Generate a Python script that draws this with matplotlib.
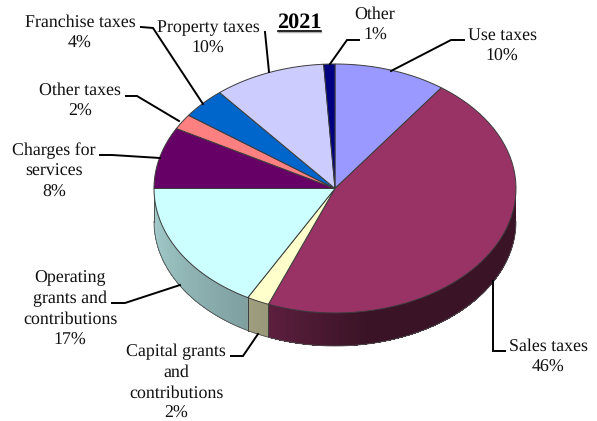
import numpy as np
import matplotlib
matplotlib.use('Agg')
import matplotlib.pyplot as plt
from matplotlib.patches import Polygon

plt.rcParams['font.family'] = ['Liberation Serif', 'DejaVu Serif']
plt.rcParams['text.hinting'] = 'none'

title = '2021'
names = ['Use taxes', 'Sales taxes', 'Capital grants\nand\ncontributions',
         'Operating\ngrants and\ncontributions', 'Charges for\nservices',
         'Other taxes', 'Franchise taxes', 'Property taxes', 'Other']
values = [10, 46, 2, 17, 8, 2, 4, 10, 1]
colors = ['#9999ff', '#993366', '#ffffcc', '#ccffff', '#660066',
          '#ff8080', '#0066cc', '#ccccff', '#000080']

# label centres and leader lines, in pixels
label_pos = [(502, 45), (548, 356.5), (176, 382), (70, 308.5), (54, 171),
             (80, 100.5), (80, 32.5), (208, 37), (375, 24.5)]
leaders = [[(464, 40), (451, 40), (391, 71)],
           [(505, 351), (493, 351), (493, 281)],
           [(231, 356), (243, 356), (258, 334)],
           [(112, 303), (125, 303), (180, 285)],
           [(100, 155), (112, 155), (160, 158)],
           [(126, 96), (137, 96), (179, 121)],
           [(141, 27), (153, 28), (203, 104)],
           [(265, 32), (269, 72)],
           [(359, 40), (347, 40), (330, 64)]]

cx, cy = 335, 188.5
rx, ry = 181, 124.5
depth = 33
line_step = 20.7


def rim(theta):
    # theta in degrees, clockwise from 12 o'clock
    t = np.radians(theta)
    return cx + rx * np.sin(t), cy - ry * np.cos(t)


def shade(theta):
    return np.interp(theta, [90, 170, 200, 210, 270], [0.38, 0.38, 0.59, 0.63, 0.82])


fig = plt.figure(figsize=(5.97, 4.21), dpi=100)
ax = fig.add_axes([0, 0, 1, 1])
ax.set_xlim(0, 597)
ax.set_ylim(421, 0)
ax.axis('off')

edges = np.cumsum([0] + values) * 3.6

# side wall, only the front half is visible
for i, c in enumerate(colors):
    a0, a1 = max(edges[i], 90), min(edges[i + 1], 270)
    if a0 >= a1:
        continue
    base = np.array(matplotlib.colors.to_rgb(c))
    # each band runs to the end of the slice and the next one paints over it
    for s in np.arange(a0, a1, 1.0):
        arc = np.linspace(s, a1, 40)
        x, y = rim(arc)
        pts = list(zip(x, y)) + list(zip(x[::-1], y[::-1] + depth))
        ax.add_patch(Polygon(pts, fc=base * shade(s + 0.5), ec='none', zorder=1))
    # darker seam at the slice boundary
    for a in (a0, a1):
        if 90 < a < 270:
            x, y = rim(a)
            ax.plot([x, x], [y, y + depth], color='#404040', lw=0.7, zorder=2)

# outline of the wall
front = np.linspace(90, 270, 181)
fx, fy = rim(front)
ax.plot(fx, fy + depth, color='#505050', lw=0.6, zorder=2)
ax.plot([fx[-1], fx[-1]], [fy[-1], fy[-1] + depth], color='#505050', lw=0.7, zorder=2)

# top face
for i, c in enumerate(colors):
    arc = np.linspace(edges[i], edges[i + 1], 60)
    x, y = rim(arc)
    pts = [(cx, cy)] + list(zip(x, y))
    ax.add_patch(Polygon(pts, fc=c, ec='#3c3c3c', lw=0.7, joinstyle='round', zorder=3))

for xy, pos, name, v in zip(leaders, label_pos, names, values):
    lx, ly = zip(*xy)
    ax.plot(lx, ly, color='black', lw=1.4, solid_joinstyle='miter', zorder=4)
    # one text per line so the spacing stays fixed
    lines = f'{name}\n{v}%'.split('\n')
    for k, line in enumerate(lines):
        y = pos[1] + (k - (len(lines) - 1) / 2) * line_step + 5
        ax.text(pos[0], y, line, ha='center', va='baseline',
                fontsize=12.9, color='#111111', zorder=5)

ax.text(299.5, 22, title, ha='center', va='center', fontsize=16,
        fontweight='bold', color='black', zorder=5)
ax.plot([278, 321], [32, 32], color='#b0b0b0', lw=1.0, zorder=4)
ax.plot([278, 321], [30.5, 30.5], color='black', lw=1.2, zorder=5)

fig.savefig('out.png', dpi=100)
